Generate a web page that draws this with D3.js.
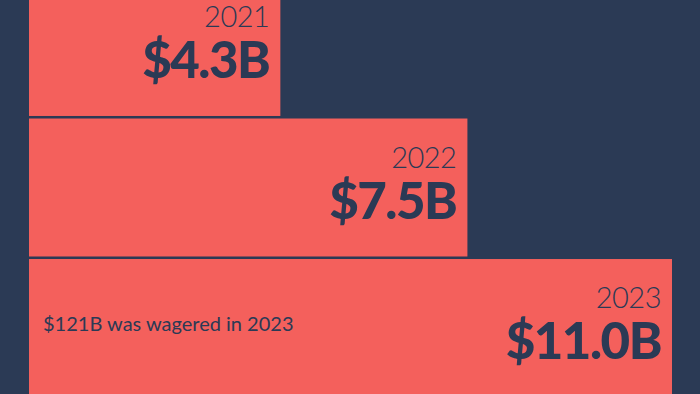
<!DOCTYPE html>
<html>
<head>
<meta charset="utf-8">
<script src="https://cdn.jsdelivr.net/npm/d3@7"></script>
<style>
  html, body { margin: 0; padding: 0; background: #2b3a55; overflow: hidden; }
</style>
</head>
<body>
<div id="chart"></div>
<script>
// data
var years = ["2021", "2022", "2023"];
var revenue = [4.3, 7.5, 11.0];
var valueLabels = ["$4.3B", "$7.5B", "$11.0B"];
var note = "$121B was wagered in 2023";

var width = 700,
    height = 394,
    navy = "#2b3a55",
    coral = "#f4605c";

var svg = d3.select("#chart").append("svg")
    .attr("width", width)
    .attr("height", height);

svg.append("rect")
    .attr("width", width)
    .attr("height", height)
    .attr("fill", navy);

var x = d3.scaleLinear()
    .domain([0, 11.0])
    .range([29, 672]);

var y = d3.scaleBand()
    .domain(years)
    .range([-22, 397])
    .paddingInner(0.018);

var bars = svg.selectAll("g.bar")
    .data(years)
    .enter().append("g")
        .attr("class", "bar")
        .attr("transform", function(d) {
            return "translate(0," + y(d) + ")";
        });

bars.append("rect")
    .attr("x", x(0))
    .attr("width", function(d, i) { return x(revenue[i]) - x(0); })
    .attr("height", y.bandwidth())
    .attr("fill", coral);

// year label, light
bars.append("text")
    .attr("x", function(d, i) { return x(revenue[i]) - 11; })
    .attr("y", 49)
    .attr("text-anchor", "end")
    .style("font", "300 29px Lato, sans-serif")
    .style("letter-spacing", "-0.5px")
    .attr("fill", navy)
    .text(function(d) { return d; });

// value label, heavy
bars.append("text")
    .attr("x", function(d, i) { return x(revenue[i]) - 11; })
    .attr("y", 100)
    .attr("text-anchor", "end")
    .style("font", "900 51px Lato, sans-serif")
    .style("letter-spacing", "-1.5px")
    .attr("fill", navy)
    .text(function(d, i) { return valueLabels[i]; });

svg.append("text")
    .attr("x", 43)
    .attr("y", 331)
    .style("font", "400 20px Lato, sans-serif")
    .attr("fill", navy)
    .text(note);
</script>
</body>
</html>
